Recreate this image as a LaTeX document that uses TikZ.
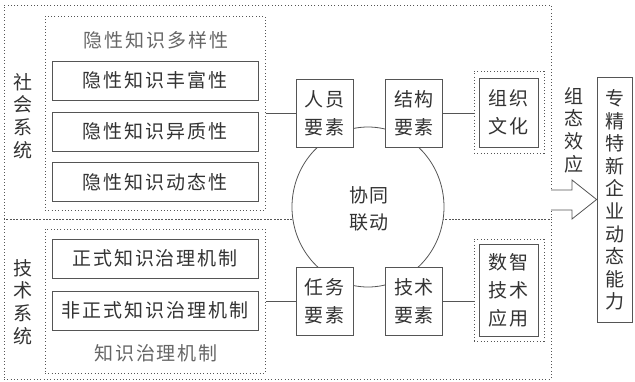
\documentclass[tikz,border=0pt]{standalone}
\usepackage{fontspec}
\usetikzlibrary{shapes.geometric}
\newfontfamily\cjk{Noto Sans CJK SC}[LetterSpace=10]
\newfontfamily\cjkv{Noto Sans CJK SC}
\definecolor{linegray}{HTML}{555555}
\definecolor{txt}{HTML}{333333}
\definecolor{lighttxt}{HTML}{666666}
\begin{document}
\begin{tikzpicture}[x=1pt,y=-1pt,
  dotline/.style={draw=linegray,line width=1pt,dash pattern=on 1pt off 2.3pt},
  solidbox/.style={draw=linegray,line width=0.8pt,fill=white,inner sep=0pt,text=txt},
  grp/.style={dotline,inner sep=0pt},
  wide/.style={solidbox,minimum width=206pt,minimum height=39pt,font=\cjk\fontsize{19}{22}\selectfont},
  elem/.style={solidbox,minimum width=57pt,minimum height=68pt,align=center,font=\cjk\fontsize{19}{28}\selectfont},
  vtext/.style={inner sep=0pt,align=center,text=txt,font=\cjkv\fontsize{19}{22.6}\selectfont},
  conn/.style={draw=linegray,line width=0.8pt}
]
\useasboundingbox (0,0) rectangle (635,381);
% outer dotted frames
\node[grp,minimum width=547pt,minimum height=214pt] (social) at (277.5,112) {};
\node[grp,minimum width=547pt,minimum height=160pt] (tech) at (277.5,299) {};
% inner groups
\node[grp,minimum width=220pt,minimum height=194pt] (topgrp) at (155,113) {};
\node[grp,minimum width=220pt,minimum height=144pt] (botgrp) at (155,301) {};
\node[text=lighttxt,font=\cjk\fontsize{19}{22}\selectfont,inner sep=0pt] (lblA) at (156,40) {隐性知识多样性};
\node[text=lighttxt,font=\cjk\fontsize{19}{22}\selectfont,inner sep=0pt] (lblB) at (156,353) {知识治理机制};
\node[wide] (b1) at (155,80.5) {隐性知识丰富性};
\node[wide] (b2) at (155,131.5) {隐性知识异质性};
\node[wide] (b3) at (155,182) {隐性知识动态性};
\node[wide] (b4) at (155,258.5) {正式知识治理机制};
\node[wide] (b5) at (155,310.5) {非正式知识治理机制};
% side labels
\node[vtext] (soc) at (23,116) {社\\会\\系\\统};
\node[vtext] (tec) at (23,302) {技\\术\\系\\统};
% circle
\node[draw=linegray,line width=0.8pt,fill=white,ellipse,minimum width=152pt,minimum height=160pt,inner sep=0pt] (circ) at (368,207) {};
\node[inner sep=0pt,align=center,text=txt,font=\cjk\fontsize{19}{27}\selectfont] (ctext) at (369,209) {协同\\联动};
% element boxes
\node[elem] (ry) at (324.5,113) {人员\\要素};
\node[elem] (jg) at (414,113) {结构\\要素};
\node[elem] (rw) at (324.5,301) {任务\\要素};
\node[elem] (js) at (414,301) {技术\\要素};
% culture and digital
\node[grp,minimum width=70pt,minimum height=82pt] (orgout) at (509,112) {};
\node[elem,minimum width=59pt,minimum height=69pt] (org) at (508.5,112.5) {组织\\文化};
\node[grp,minimum width=70pt,minimum height=102pt] (digout) at (509,290) {};
\node[elem,minimum width=59pt,minimum height=92pt] (dig) at (508.5,290) {数智\\技术\\应用};
% connectors
\draw[conn] (topgrp.east |- ry.west) -- (ry.west);
\draw[conn] (botgrp.east |- rw.west) -- (rw.west);
\draw[conn] (jg.east) -- (orgout.west |- jg.east);
\draw[conn] (js.east) -- (digout.west |- js.east);
% right box
\node[solidbox,minimum width=35pt,minimum height=245pt] (firm) at (614.5,199.5) {};
\node[vtext] (firmtxt) at (615,200) {专\\精\\特\\新\\企\\业\\动\\态\\能\\力};
% block arrow
\coordinate (a0) at (551,190);
\coordinate (a6) at (551,210);
\draw[conn,fill=white,line join=miter] (a0) -- (572,190) -- (572,180) -- (firm.west) -- (572,219) -- (572,210) -- (a6);
\node[vtext] (eff) at (574,130) {组\\态\\效\\应};
\end{tikzpicture}
\end{document}
